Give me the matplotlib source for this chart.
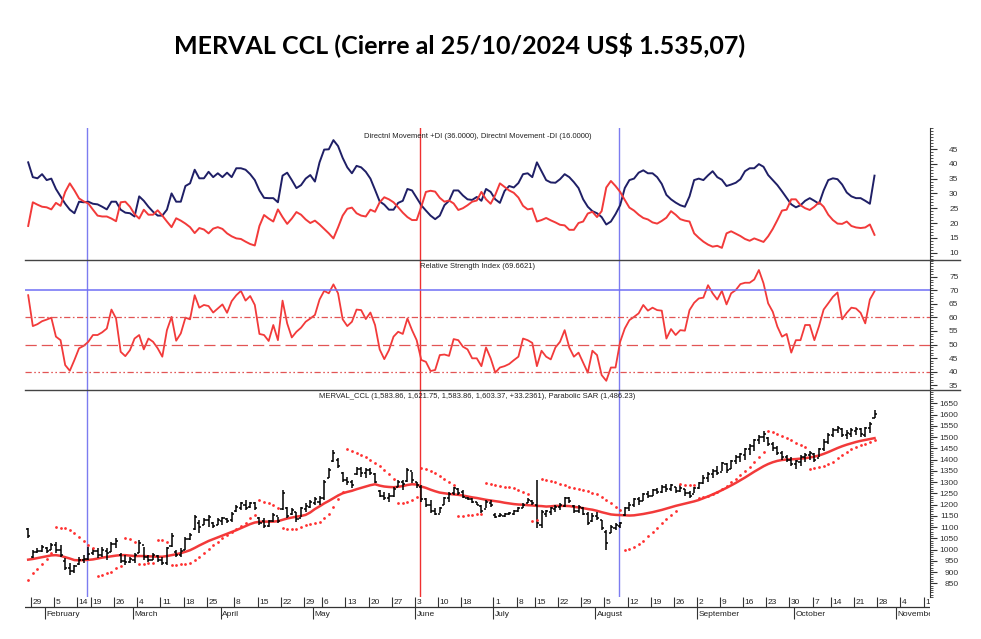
import numpy as np
import pandas as pd
import matplotlib
matplotlib.use("Agg")
import matplotlib.pyplot as plt
from matplotlib.lines import Line2D
from matplotlib.ticker import MultipleLocator

plt.rcParams['font.family'] = ['Liberation Sans', 'DejaVu Sans']

# ---------------- data ----------------
start_date = "2024-01-26"
holidays = ["2024-02-12", "2024-02-13", "2024-03-28", "2024-03-29", "2024-04-01",
            "2024-04-02", "2024-05-01", "2024-06-17", "2024-06-20", "2024-06-21",
            "2024-07-09", "2024-10-11"]

di_plus = [40.5, 35.5, 35.1, 36.5, 34.5, 35.0, 31.5, 29.0, 26.5, 24.5,
           23.3, 27.2, 27.0, 27.2, 26.5, 26.3, 25.5, 24.6, 27.2, 27.2,
           24.5, 23.5, 23.3, 22.2, 29.0, 27.5, 25.5, 23.8, 22.5, 22.5,
           24.5, 30.0, 27.2, 27.2, 32.5, 33.4, 38.0, 35.1, 35.1, 37.3,
           35.5, 36.8, 35.5, 37.0, 35.5, 38.5, 38.5, 38.0, 36.5, 34.5,
           31.0, 28.5, 28.4, 28.4, 27.0, 36.0, 37.0, 34.5, 31.8, 32.8,
           35.0, 36.2, 34.0, 40.5, 44.8, 44.9, 48.0, 46.0, 42.0, 38.8,
           36.8, 39.3, 38.8, 37.3, 35.0, 31.2, 27.3, 26.2, 24.5, 24.5,
           26.8, 27.5, 31.5, 31.0, 28.5, 26.0, 24.2, 22.5, 21.3, 22.5,
           26.0, 27.5, 31.0, 31.0, 29.3, 28.0, 27.8, 28.8, 27.5, 31.5,
           30.5, 28.0, 26.8, 30.8, 32.5, 32.0, 33.5, 36.5, 36.8, 35.5,
           40.5, 37.5, 34.5, 33.7, 33.6, 34.8, 36.5, 35.5, 33.8, 31.8,
           28.0, 25.5, 24.0, 23.3, 22.0, 19.5, 20.5, 23.0, 26.0, 31.8,
           34.5, 35.0, 37.0, 37.8, 36.8, 36.8, 35.5, 33.2, 29.5, 28.0,
           26.9, 26.0, 25.5, 29.0, 34.5, 35.0, 34.5, 36.1, 37.5, 35.5,
           34.6, 32.5, 33.0, 33.6, 34.8, 37.5, 38.5, 38.5, 39.9, 39.0,
           36.2, 34.5, 32.8, 30.7, 28.5, 26.3, 25.3, 26.0, 27.5, 28.4,
           27.5, 26.5, 31.0, 34.5, 35.1, 34.8, 33.0, 30.3, 29.0, 28.4,
           28.4, 27.5, 26.5, 36.0]

di_minus = [19.0, 27.0, 26.2, 25.5, 25.3, 24.6, 26.8, 25.8, 30.5, 33.4,
            31.0, 28.3, 27.3, 26.6, 24.5, 22.5, 22.2, 22.2, 21.5, 20.6,
            27.0, 27.2, 25.5, 23.0, 21.5, 24.5, 22.8, 22.8, 24.3, 22.5,
            20.5, 18.6, 21.6, 20.8, 19.8, 18.6, 16.6, 18.3, 17.8, 16.5,
            18.1, 18.6, 18.0, 16.5, 15.5, 14.8, 14.6, 13.7, 12.9, 12.4,
            19.0, 22.7, 21.5, 20.5, 24.6, 22.0, 19.7, 21.5, 23.7, 22.8,
            21.2, 20.0, 20.8, 19.5, 18.0, 16.5, 14.8, 18.5, 22.5, 24.8,
            25.2, 23.3, 22.5, 22.2, 24.5, 23.8, 27.0, 28.7, 28.0, 27.0,
            25.3, 23.5, 22.0, 21.0, 21.0, 25.5, 30.5, 30.9, 30.6, 28.5,
            27.2, 27.6, 26.6, 24.4, 25.0, 26.0, 27.2, 27.6, 30.5, 28.0,
            26.5, 29.5, 33.4, 32.2, 31.0, 30.2, 28.6, 25.8, 24.6, 24.9,
            20.5, 21.0, 21.7, 20.9, 20.2, 19.4, 19.2, 17.7, 17.7, 20.0,
            20.5, 23.2, 23.8, 22.0, 24.0, 32.0, 34.2, 32.5, 30.5, 27.8,
            25.2, 24.2, 22.8, 21.7, 21.2, 20.2, 19.8, 20.7, 21.8, 24.0,
            22.8, 21.3, 20.8, 20.5, 16.5, 15.0, 13.7, 12.7, 12.0, 12.3,
            11.6, 16.5, 17.2, 16.4, 15.6, 14.6, 14.0, 14.8, 14.2, 13.6,
            15.5, 18.0, 21.0, 24.2, 24.5, 28.0, 28.0, 26.0, 25.0, 24.4,
            25.5, 27.0, 25.5, 22.8, 21.0, 19.8, 19.7, 20.5, 19.0, 18.5,
            18.3, 18.5, 19.5, 16.0]

rsi = [68.2, 56.8, 57.5, 58.6, 59.2, 59.9, 52.9, 51.6, 42.4, 40.3,
       44.3, 48.6, 49.5, 51.0, 53.5, 53.5, 54.5, 55.9, 62.9, 59.6,
       47.3, 45.7, 47.9, 52.2, 53.5, 48.2, 52.2, 51.0, 48.6, 45.5,
       55.3, 60.2, 51.4, 54.1, 59.9, 59.3, 68.2, 63.6, 64.6, 64.2,
       61.8, 63.3, 64.8, 61.7, 66.0, 68.2, 69.8, 66.2, 67.9, 64.6,
       53.9, 53.5, 51.3, 57.2, 51.6, 66.2, 57.8, 52.6, 54.7, 56.2,
       58.4, 59.6, 60.9, 66.6, 69.8, 68.9, 72.2, 68.9, 59.3, 56.8,
       58.4, 62.9, 62.7, 59.4, 61.8, 57.2, 48.2, 44.6, 47.9, 52.9,
       54.7, 53.9, 59.6, 55.3, 51.6, 44.3, 43.6, 40.2, 40.6, 46.1,
       46.3, 45.8, 52.0, 51.6, 49.2, 48.2, 44.9, 44.9, 42.0, 48.9,
       44.9, 39.6, 41.5, 42.0, 42.8, 44.2, 45.5, 52.2, 51.6, 50.6,
       42.0, 47.7, 45.5, 44.5, 48.9, 51.0, 55.3, 48.9, 45.5, 47.0,
       43.3, 39.6, 47.7, 46.1, 38.7, 36.6, 41.5, 41.5, 51.0, 55.9,
       59.0, 60.2, 61.5, 64.6, 62.5, 63.6, 62.7, 62.5, 52.2, 55.7,
       53.5, 55.3, 55.1, 62.7, 65.4, 67.0, 67.3, 71.9, 68.9, 66.6,
       69.8, 64.8, 68.9, 70.1, 72.3, 72.8, 72.8, 74.0, 77.5, 72.6,
       65.2, 62.1, 56.6, 52.9, 53.9, 47.0, 51.6, 51.6, 57.2, 57.2,
       51.6, 56.8, 62.9, 65.2, 67.6, 69.2, 59.3, 61.7, 63.6, 63.3,
       61.7, 57.8, 66.6, 69.66]

opens = [1090, 965, 990, 995, 1005, 1000, 1020, 1000, 950, 920,
         905, 935, 955, 960, 985, 995, 975, 995, 990, 1025,
         975, 950, 945, 955, 985, 1020, 965, 955, 970, 955,
         940, 1015, 990, 975, 1000, 1045, 1090, 1120, 1110, 1130,
         1120, 1110, 1125, 1135, 1130, 1170, 1185, 1200, 1190, 1205,
         1140, 1125, 1105, 1125, 1150, 1180, 1185, 1160, 1165, 1140,
         1180, 1190, 1205, 1210, 1230, 1320, 1395, 1400, 1340, 1310,
         1300, 1335, 1360, 1340, 1355, 1335, 1260, 1240, 1230, 1240,
         1280, 1300, 1305, 1350, 1300, 1280, 1225, 1200, 1170, 1160,
         1200, 1230, 1250, 1270, 1255, 1230, 1225, 1210, 1195, 1180,
         1205, 1155, 1150, 1150, 1160, 1160, 1170, 1185, 1205, 1215,
         1200, 1110, 1160, 1165, 1180, 1190, 1195, 1230, 1195, 1170,
         1185, 1160, 1125, 1150, 1130, 1080, 1075, 1095, 1105, 1155,
         1185, 1200, 1225, 1215, 1245, 1240, 1265, 1255, 1280, 1270,
         1280, 1260, 1270, 1250, 1245, 1275, 1295, 1320, 1335, 1350,
         1345, 1380, 1360, 1395, 1410, 1420, 1445, 1460, 1485, 1500,
         1495, 1470, 1450, 1430, 1410, 1400, 1380, 1390, 1410, 1420,
         1425, 1405, 1445, 1480, 1510, 1530, 1535, 1510, 1515, 1525,
         1535, 1510, 1540, 1583.86]

highs = [1097, 998, 1005, 1020, 1013, 1028, 1035, 1020, 961, 939,
         931, 968, 976, 1013, 1005, 1005, 1013, 1005, 1035, 1050,
         983, 976, 968, 983, 1042, 1013, 976, 983, 976, 968,
         1013, 1072, 998, 1005, 1057, 1072, 1154, 1131, 1139, 1154,
         1124, 1139, 1146, 1139, 1168, 1198, 1213, 1220, 1213, 1213,
         1146, 1139, 1131, 1161, 1146, 1265, 1191, 1183, 1168, 1191,
         1205, 1220, 1235, 1240, 1309, 1361, 1442, 1405, 1346, 1324,
         1309, 1368, 1368, 1361, 1361, 1339, 1265, 1257, 1250, 1280,
         1309, 1309, 1361, 1346, 1302, 1287, 1228, 1220, 1183, 1191,
         1235, 1257, 1280, 1272, 1265, 1235, 1228, 1213, 1198, 1220,
         1220, 1161, 1161, 1161, 1168, 1176, 1191, 1205, 1228, 1220,
         1309, 1176, 1176, 1191, 1198, 1205, 1235, 1235, 1198, 1198,
         1191, 1168, 1161, 1168, 1131, 1087, 1109, 1117, 1124, 1190,
         1210, 1230, 1235, 1250, 1260, 1270, 1275, 1285, 1290, 1290,
         1280, 1285, 1270, 1262, 1280, 1300, 1330, 1345, 1360, 1370,
         1390, 1385, 1400, 1420, 1430, 1450, 1470, 1490, 1510, 1525,
         1500, 1480, 1460, 1440, 1420, 1410, 1400, 1420, 1430, 1440,
         1430, 1450, 1490, 1520, 1540, 1550, 1540, 1530, 1540, 1545,
         1540, 1545, 1565, 1621.75]

lows = [1050, 961, 983, 990, 983, 998, 983, 968, 909, 887,
        894, 931, 939, 954, 976, 961, 968, 954, 991, 1005,
        939, 931, 939, 939, 983, 954, 946, 954, 946, 931,
        931, 1013, 968, 968, 998, 1042, 1087, 1072, 1109, 1102,
        1094, 1109, 1109, 1117, 1124, 1168, 1176, 1176, 1183, 1176,
        1109, 1094, 1102, 1124, 1117, 1176, 1139, 1154, 1124, 1146,
        1168, 1183, 1198, 1198, 1220, 1316, 1391, 1361, 1302, 1287,
        1272, 1331, 1324, 1317, 1331, 1294, 1235, 1220, 1213, 1235,
        1280, 1265, 1302, 1294, 1272, 1213, 1191, 1161, 1154, 1161,
        1198, 1213, 1243, 1242, 1228, 1220, 1205, 1198, 1161, 1183,
        1191, 1139, 1146, 1146, 1154, 1154, 1168, 1183, 1205, 1198,
        1094, 1094, 1146, 1154, 1168, 1176, 1191, 1205, 1161, 1161,
        1154, 1109, 1124, 1131, 1087, 998, 1072, 1087, 1094, 1150,
        1170, 1190, 1200, 1215, 1230, 1240, 1245, 1250, 1255, 1260,
        1250, 1255, 1240, 1230, 1250, 1270, 1290, 1300, 1320, 1330,
        1350, 1340, 1360, 1380, 1390, 1400, 1420, 1440, 1470, 1480,
        1460, 1440, 1420, 1400, 1390, 1370, 1360, 1370, 1390, 1400,
        1390, 1410, 1440, 1470, 1500, 1520, 1500, 1490, 1500, 1510,
        1500, 1500, 1520, 1583.86]

closes = [1060, 990, 995, 1010, 995, 1020, 1000, 975, 920, 905,
          925, 955, 960, 980, 995, 975, 1000, 985, 1025, 1040,
          950, 945, 960, 975, 1030, 965, 955, 975, 955, 940,
          1005, 1060, 975, 995, 1045, 1065, 1145, 1100, 1130, 1145,
          1105, 1130, 1140, 1125, 1160, 1190, 1205, 1185, 1205, 1185,
          1120, 1105, 1125, 1155, 1125, 1250, 1150, 1175, 1135, 1185,
          1195, 1210, 1225, 1230, 1300, 1355, 1430, 1370, 1310, 1300,
          1285, 1360, 1340, 1355, 1340, 1300, 1240, 1230, 1240, 1270,
          1300, 1290, 1355, 1310, 1285, 1225, 1200, 1170, 1160, 1185,
          1230, 1245, 1275, 1250, 1235, 1225, 1210, 1200, 1170, 1210,
          1200, 1145, 1155, 1158, 1162, 1170, 1185, 1200, 1220, 1205,
          1120, 1165, 1170, 1185, 1190, 1200, 1230, 1215, 1170, 1190,
          1160, 1120, 1150, 1140, 1095, 1030, 1100, 1110, 1120, 1185,
          1200, 1225, 1215, 1245, 1240, 1265, 1255, 1280, 1270, 1285,
          1260, 1275, 1250, 1240, 1275, 1295, 1320, 1335, 1350, 1340,
          1385, 1355, 1395, 1410, 1425, 1445, 1460, 1485, 1500, 1515,
          1470, 1450, 1430, 1410, 1400, 1380, 1395, 1410, 1420, 1430,
          1400, 1445, 1480, 1510, 1530, 1540, 1510, 1520, 1530, 1535,
          1515, 1540, 1560, 1603.37]

sma = [955, 958, 962, 966, 970, 974, 975, 972, 966, 960,
       953, 952, 953, 954, 956, 960, 964, 967, 970, 973,
       975, 975, 973, 971, 971, 971, 970, 969, 968, 968,
       971, 975, 979, 984, 990, 997, 1007, 1018, 1028, 1038,
       1046, 1054, 1062, 1070, 1078, 1086, 1095, 1104, 1113, 1120,
       1123, 1124, 1124, 1124, 1126, 1132, 1138, 1142, 1146, 1149,
       1154, 1165, 1180, 1192, 1205, 1216, 1228, 1240, 1250, 1256,
       1261, 1268, 1274, 1280, 1286, 1290, 1284, 1280, 1278, 1277,
       1279, 1282, 1287, 1290, 1289, 1280, 1274, 1266, 1259, 1253,
       1250, 1247, 1245, 1243, 1240, 1236, 1232, 1229, 1225, 1221,
       1218, 1215, 1212, 1208, 1205, 1202, 1200, 1199, 1197, 1196,
       1194, 1193, 1191, 1192, 1194, 1194, 1194, 1193, 1190, 1187,
       1184, 1180, 1177, 1172, 1166, 1161, 1156, 1154, 1153, 1152,
       1151, 1152, 1155, 1158, 1162, 1166, 1171, 1176, 1182, 1188,
       1194, 1199, 1204, 1209, 1214, 1220, 1228, 1236, 1245, 1254,
       1264, 1274, 1285, 1296, 1308, 1320, 1333, 1346, 1358, 1370,
       1380, 1388, 1394, 1398, 1400, 1401, 1402, 1404, 1406, 1409,
       1413, 1418, 1425, 1433, 1442, 1451, 1459, 1466, 1472, 1478,
       1483, 1487, 1491, 1495]

sar = [865, 897, 915, 935, 958, 985, 1099, 1097, 1094, 1087,
       1075, 1057, 1040, 1020, 1008, 882, 887, 894, 902, 917,
       925, 1050, 1045, 1035, 936, 937, 938, 939, 1042, 1042,
       1035, 931, 932, 934, 937, 942, 952, 968, 985, 1002,
       1018, 1034, 1050, 1064, 1078, 1092, 1106, 1120, 1138, 1155,
       1220, 1213, 1208, 1198, 1183, 1094, 1092, 1090, 1092, 1100,
       1108, 1113, 1118, 1124, 1139, 1160, 1190, 1225, 1257, 1445,
       1440, 1430, 1420, 1410, 1398, 1386, 1372, 1354, 1336, 1314,
       1205, 1208, 1213, 1220, 1232, 1361, 1358, 1350, 1339, 1326,
       1312, 1298, 1285, 1150, 1150, 1152, 1154, 1156, 1158, 1294,
       1290, 1287, 1284, 1280, 1276, 1272, 1265, 1257, 1247, 1128,
       1131, 1312, 1309, 1305, 1298, 1292, 1285, 1280, 1275, 1270,
       1265, 1258, 1252, 1245, 1235, 1222, 1205, 1190, 1175, 998,
       1003, 1012, 1025, 1040, 1058, 1077, 1097, 1117, 1137, 1155,
       1172, 1290, 1289, 1287, 1285, 1230, 1233, 1238, 1245, 1255,
       1268, 1282, 1298, 1315, 1333, 1350, 1368, 1388, 1410, 1435,
       1525, 1522, 1515, 1505, 1495, 1485, 1475, 1465, 1455, 1360,
       1362, 1365, 1370, 1378, 1390, 1405, 1420, 1433, 1445, 1455,
       1463, 1470, 1478, 1486.23]

week_ticks = ["2024-01-29", "2024-02-05", "2024-02-14", "2024-02-19", "2024-02-26",
              "2024-03-04", "2024-03-11", "2024-03-18", "2024-03-25", "2024-04-08",
              "2024-04-15", "2024-04-22", "2024-04-29", "2024-05-06", "2024-05-13",
              "2024-05-20", "2024-05-27", "2024-06-03", "2024-06-10", "2024-06-18",
              "2024-07-01", "2024-07-08", "2024-07-15", "2024-07-22", "2024-07-29",
              "2024-08-05", "2024-08-12", "2024-08-19", "2024-08-26", "2024-09-02",
              "2024-09-09", "2024-09-16", "2024-09-23", "2024-09-30", "2024-10-07",
              "2024-10-14", "2024-10-21", "2024-10-28", "2024-11-04", "2024-11-11"]
month_ticks = ["2024-02-01", "2024-03-01", "2024-04-03", "2024-05-02", "2024-06-03",
               "2024-07-01", "2024-08-01", "2024-09-02", "2024-10-01", "2024-11-01"]
month_names = ["February", "March", "April", "May", "June", "July", "August",
               "September", "October", "November"]
blue_marks = ["2024-02-16", "2024-08-08"]
red_marks = ["2024-06-04"]

# ---------------- calendar ----------------
days = pd.bdate_range(start_date, "2024-11-22", freq="C", holidays=holidays)
pos = {d.strftime("%Y-%m-%d"): i for i, d in enumerate(days)}
x = np.arange(len(closes))

# ---------------- figure ----------------
W, H = 981, 639
fig = plt.figure(figsize=(W / 100, H / 100), dpi=100)


def box(top, bottom, left=25, right=930):
    return [left / W, 1 - bottom / H, (right - left) / W, (bottom - top) / H]


ax1 = fig.add_axes(box(128, 260))
ax2 = fig.add_axes(box(260, 390), sharex=ax1)
ax3 = fig.add_axes(box(390, 597), sharex=ax1)
axd = fig.add_axes(box(597, 625), sharex=ax1)

navy = '#1f1f66'
red = '#f23a3a'

# DI panel
ax1.plot(x, di_plus, color=navy, lw=1.4)
ax1.plot(x, di_minus, color=red, lw=1.4)
ax1.set_ylim(7.5, 52.1)
ax1.set_yticks(range(10, 50, 5))
ax1.yaxis.set_minor_locator(MultipleLocator(1))
ax1.text(0.5, 0.965, "Directnl Movement +DI (36.0000), Directnl Movement -DI (16.0000)",
         transform=ax1.transAxes, ha='center', va='top', fontsize=5.5, color='#222222')

# RSI panel
ax2.plot(x, rsi, color=red, lw=1.3)
ax2.axhline(70, color='#6f6ff5', lw=1.1)
ax2.axhline(60, color='#e25555', lw=0.9, ls=(0, (5, 2, 1.3, 2)))
ax2.axhline(50, color='#e25555', lw=0.9, ls=(0, (9, 4)))
ax2.axhline(40, color='#e25555', lw=0.9, ls=(0, (5, 2, 1.3, 2, 1.3, 2)))
ax2.set_ylim(33.2, 81.2)
ax2.set_yticks(range(35, 80, 5))
ax2.yaxis.set_minor_locator(MultipleLocator(1))
ax2.text(0.5, 0.975, "Relative Strength Index (69.6621)",
         transform=ax2.transAxes, ha='center', va='top', fontsize=5.5, color='#222222')

# price panel
ax3.plot(x, sma, color=red, lw=1.8, zorder=3)
ax3.vlines(x, lows, highs, color='black', lw=1.1, zorder=4)
ax3.hlines(opens, x - 0.45, x, color='black', lw=1.1, zorder=4)
ax3.hlines(closes, x, x + 0.45, color='black', lw=1.1, zorder=4)
ax3.plot(x, sar, ls='none', marker='o', ms=2.0, color='#ff3030', mec='none', zorder=5)
ax3.set_ylim(789, 1709)
ax3.set_yticks(range(850, 1700, 50))
ax3.yaxis.set_minor_locator(MultipleLocator(10))
ax3.text(0.5, 0.985,
         "MERVAL_CCL (1,583.86, 1,621.75, 1,583.86, 1,603.37, +33.2361), Parabolic SAR (1,486.23)",
         transform=ax3.transAxes, ha='center', va='top', fontsize=5.5, color='#222222')

ax1.set_xlim(-0.69, 195.0)

for ax in (ax1, ax2, ax3):
    for s in ('top', 'left', 'bottom'):
        ax.spines[s].set_visible(False)
    ax.spines['right'].set_color('#333333')
    ax.yaxis.tick_right()
    ax.tick_params(axis='x', which='both', bottom=False, labelbottom=False)
    ax.tick_params(axis='y', which='major', length=5, width=0.8, pad=15.5,
                   labelsize=6, colors='#333333')
    ax.tick_params(axis='y', which='minor', length=2.5, width=0.6, colors='#333333')
    for d in blue_marks:
        ax.axvline(pos[d] - 0.2, color='#7c7cf0', lw=1.0, zorder=1)
    for d in red_marks:
        ax.axvline(pos[d] - 0.2, color='#f03030', lw=1.0, zorder=1)

# date strip
axd.set_ylim(0, 1)
axd.axis('off')
axd.axhline(0.643, color='#333333', lw=0.9)
for d in week_ticks:
    p = pos[d] - 0.4
    axd.vlines(p, 0.643, 1.0, color='#333333', lw=0.8)
    axd.text(p + 0.35, 0.80, str(int(d[-2:])), fontsize=6, va='center', ha='left',
             color='#222222', clip_on=True)
for d, name in zip(month_ticks, month_names):
    p = pos[d] - 0.4
    axd.vlines(p, 0.22, 0.643, color='#333333', lw=0.8)
    axd.text(p + 0.35, 0.37, name, fontsize=6, va='center', ha='left',
             color='#222222', clip_on=True)

# separators between panels
for yy in (260, 390):
    fig.add_artist(Line2D([25 / W, 960 / W], [1 - yy / H, 1 - yy / H],
                          color='#444444', lw=1.0))

fig.text(460 / W, 1 - 45 / H, "MERVAL CCL (Cierre al 25/10/2024 US$ 1.535,07)",
         ha='center', va='center', fontsize=18, fontweight='bold',
         family=['Lato', 'DejaVu Sans'])

for ax in (ax1, ax2, ax3):
    plt.setp(ax.get_yticklabels(), ha='right')

fig.savefig("out.png", dpi=100)
